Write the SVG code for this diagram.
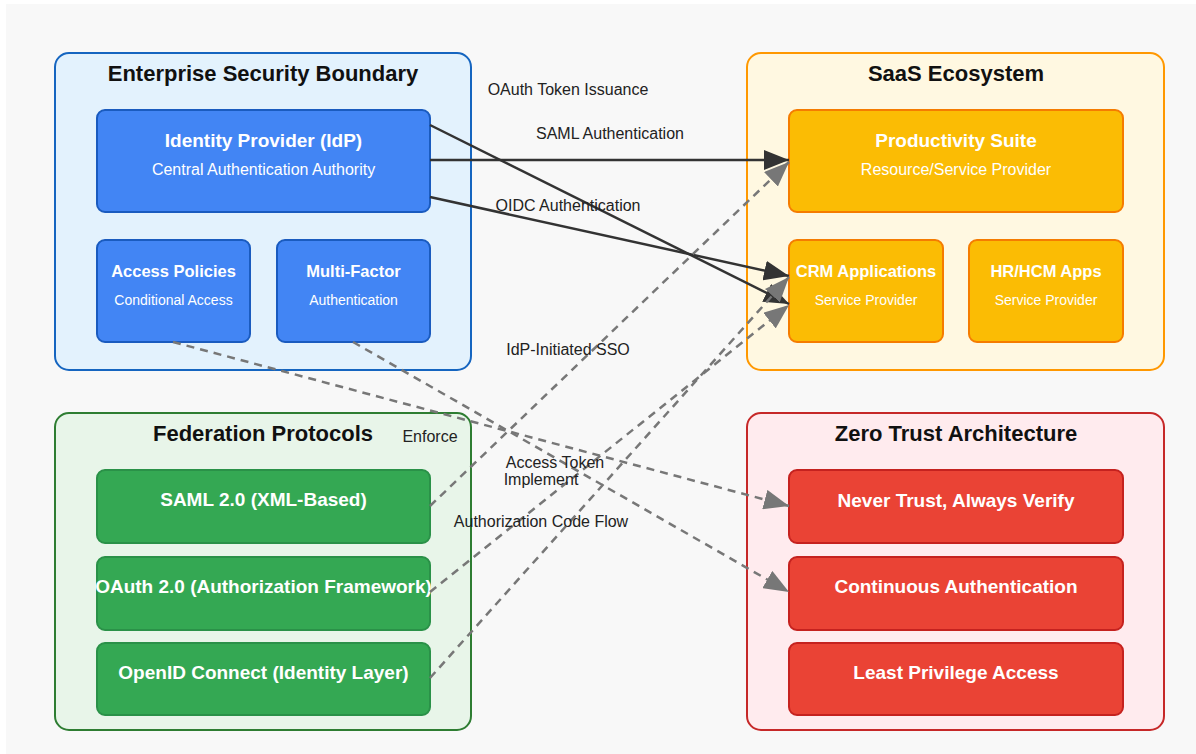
<svg xmlns="http://www.w3.org/2000/svg" width="1196" height="754" viewBox="0 0 1196 754">
  <defs>
    <style>
      text { font-family: "Liberation Sans", Arial, sans-serif; }
      .gtitle { font-size: 22px; font-weight: bold; fill: #111; text-anchor: middle; }
      .ntitle { font-size: 19px; font-weight: bold; fill: #fff; text-anchor: middle; }
      .nsub { font-size: 16px; fill: #fff; text-anchor: middle; }
      .stitle { font-size: 16.5px; font-weight: bold; fill: #fff; text-anchor: middle; }
      .ssub { font-size: 14px; fill: #fff; text-anchor: middle; }
      .lbl { font-size: 16px; fill: #222; text-anchor: middle; }
      .solid { fill: none; stroke: #333; stroke-width: 2.5; marker-end: url(#arrDark); }
      .dash { fill: none; stroke: #777; stroke-width: 2.5; stroke-dasharray: 8 6; marker-end: url(#arrGray); }
      .gBlue { fill: #e3f2fd; stroke: #1565c0; stroke-width: 2; }
      .gOrange { fill: #fff8e1; stroke: #ff9800; stroke-width: 2; }
      .gGreen { fill: #e8f5e9; stroke: #2e7d32; stroke-width: 2; }
      .gRed { fill: #ffebee; stroke: #c62828; stroke-width: 2; }
      .nBlue { fill: #4285f4; stroke: #1a5bbf; stroke-width: 2; }
      .nOrange { fill: #fbbc04; stroke: #f57c00; stroke-width: 2; }
      .nGreen { fill: #34a853; stroke: #2a9148; stroke-width: 2; }
      .nRed { fill: #ea4335; stroke: #c5221f; stroke-width: 2; }
    </style>
    <marker id="arrDark" viewBox="0 0 10 8" refX="10" refY="4" markerWidth="10" markerHeight="8" orient="auto" markerUnits="strokeWidth">
      <path d="M0,0 L10,4 L0,8 z" fill="#333"/>
    </marker>
    <marker id="arrGray" viewBox="0 0 10 8" refX="10" refY="4" markerWidth="10" markerHeight="8" orient="auto" markerUnits="strokeWidth">
      <path d="M0,0 L10,4 L0,8 z" fill="#777"/>
    </marker>
  </defs>

  <rect x="0" y="0" width="1196" height="754" fill="#ffffff"/>
  <rect x="6" y="4" width="1190" height="750" fill="#f8f8f8"/>

  <!-- Groups -->
  <g id="enterprise">
    <rect class="gBlue" x="55" y="53" width="416" height="317" rx="14"/>
    <text class="gtitle" x="263" y="81">Enterprise Security Boundary</text>
  </g>
  <g id="saas">
    <rect class="gOrange" x="747" y="53" width="417" height="317" rx="14"/>
    <text class="gtitle" x="956" y="81">SaaS Ecosystem</text>
  </g>
  <g id="federation">
    <rect class="gGreen" x="55" y="413" width="416" height="317" rx="14"/>
    <text class="gtitle" x="263" y="441">Federation Protocols</text>
  </g>
  <g id="zerotrust">
    <rect class="gRed" x="747" y="413" width="417" height="317" rx="14"/>
    <text class="gtitle" x="956" y="441">Zero Trust Architecture</text>
  </g>

  <!-- Nodes -->
  <g id="idp">
    <rect class="nBlue" x="97" y="110" width="333" height="102" rx="8"/>
    <text class="ntitle" x="263.5" y="147">Identity Provider (IdP)</text>
    <text class="nsub" x="263.5" y="175">Central Authentication Authority</text>
  </g>
  <g id="access-policies">
    <rect class="nBlue" x="97" y="240" width="153" height="102" rx="8"/>
    <text class="stitle" x="173.5" y="277">Access Policies</text>
    <text class="ssub" x="173.5" y="305">Conditional Access</text>
  </g>
  <g id="mfa">
    <rect class="nBlue" x="277" y="240" width="153" height="102" rx="8"/>
    <text class="stitle" x="353.5" y="277">Multi-Factor</text>
    <text class="ssub" x="353.5" y="305">Authentication</text>
  </g>
  <g id="productivity">
    <rect class="nOrange" x="789" y="110" width="334" height="102" rx="8"/>
    <text class="ntitle" x="956" y="147">Productivity Suite</text>
    <text class="nsub" x="956" y="175">Resource/Service Provider</text>
  </g>
  <g id="crm">
    <rect class="nOrange" x="789" y="240" width="154" height="102" rx="8"/>
    <text class="stitle" x="866" y="277">CRM Applications</text>
    <text class="ssub" x="866" y="305">Service Provider</text>
  </g>
  <g id="hr">
    <rect class="nOrange" x="969" y="240" width="154" height="102" rx="8"/>
    <text class="stitle" x="1046" y="277">HR/HCM Apps</text>
    <text class="ssub" x="1046" y="305">Service Provider</text>
  </g>
  <g id="saml">
    <rect class="nGreen" x="97" y="470" width="333" height="73" rx="8"/>
    <text class="ntitle" x="263.5" y="506">SAML 2.0 (XML-Based)</text>
  </g>
  <g id="oauth">
    <rect class="nGreen" x="97" y="557" width="333" height="73" rx="8"/>
    <text class="ntitle" x="263.5" y="593">OAuth 2.0 (Authorization Framework)</text>
  </g>
  <g id="oidc">
    <rect class="nGreen" x="97" y="643" width="333" height="72" rx="8"/>
    <text class="ntitle" x="263.5" y="679">OpenID Connect (Identity Layer)</text>
  </g>
  <g id="never-trust">
    <rect class="nRed" x="789" y="470" width="334" height="73" rx="8"/>
    <text class="ntitle" x="956" y="507">Never Trust, Always Verify</text>
  </g>
  <g id="continuous">
    <rect class="nRed" x="789" y="557" width="334" height="73" rx="8"/>
    <text class="ntitle" x="956" y="593">Continuous Authentication</text>
  </g>
  <g id="least-privilege">
    <rect class="nRed" x="789" y="643" width="334" height="72" rx="8"/>
    <text class="ntitle" x="956" y="679">Least Privilege Access</text>
  </g>

  <!-- Connectors -->
  <g id="connectors">
    <line class="solid" x1="430" y1="160" x2="789" y2="160"/>
    <line class="solid" x1="430" y1="125" x2="789" y2="304"/>
    <line class="solid" x1="430" y1="197" x2="789" y2="276"/>
    <line class="dash" x1="430" y1="506" x2="789" y2="162"/>
    <line class="dash" x1="430" y1="592" x2="789" y2="305"/>
    <line class="dash" x1="430" y1="678" x2="789" y2="277"/>
    <line class="dash" x1="173" y1="342" x2="789" y2="506"/>
    <line class="dash" x1="353" y1="342" x2="789" y2="592"/>
    <text class="lbl" x="568" y="95">OAuth Token Issuance</text>
    <text class="lbl" x="610" y="139">SAML Authentication</text>
    <text class="lbl" x="568" y="211">OIDC Authentication</text>
    <text class="lbl" x="568" y="355">IdP-Initiated SSO</text>
    <text class="lbl" x="430" y="442">Enforce</text>
    <text class="lbl" x="555" y="468">Access Token</text>
    <text class="lbl" x="541" y="485">Implement</text>
    <text class="lbl" x="541" y="527">Authorization Code Flow</text>
  </g>
</svg>
